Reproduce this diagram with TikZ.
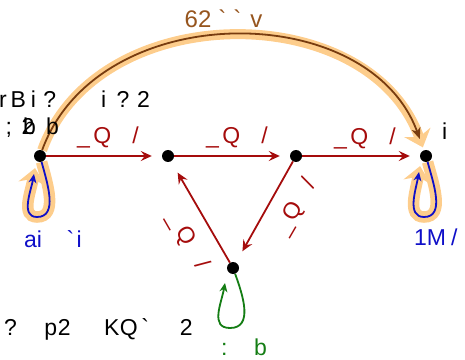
\documentclass[tikz,border=0pt]{standalone}
\usepackage{fontspec}
\setmainfont{Liberation Sans}
\usetikzlibrary{arrows.meta}
\definecolor{ered}{RGB}{165,12,12}
\definecolor{eblue}{RGB}{15,15,200}
\definecolor{egreen}{RGB}{20,125,20}
\definecolor{abrown}{RGB}{120,60,15}
\definecolor{lbrown}{RGB}{150,85,30}
\definecolor{hl}{RGB}{253,205,140}
\pgfdeclarelayer{bg}
\pgfsetlayers{bg,main}
\begin{document}
\begin{tikzpicture}[x=1pt,y=1pt,
  dot/.style={circle,fill=black,inner sep=0pt,minimum size=12pt},
  txt/.style={inner sep=0pt,anchor=base west,font=\fontsize{23}{27}\selectfont},
  redge/.style={draw=ered,line width=1.8pt,-{Stealth[length=11pt,width=10pt,inset=4pt]},shorten >=10pt},
  bloop/.style={draw=eblue,line width=1.8pt,-{Stealth[length=9pt,width=8pt,inset=3pt]}},
  gloop/.style={draw=egreen,line width=1.8pt,-{Stealth[length=9pt,width=8pt,inset=3pt]}},
  arcst/.style={draw=abrown,line width=1.8pt,-{Stealth[length=11pt,width=9pt,inset=3pt]},shorten >=12pt},
  hlight/.style={draw=hl,line width=10pt,-{Stealth[length=16pt,width=28pt,line width=0pt]}},
  elabel/.style={txt,text=ered},
]
\useasboundingbox (0,0) rectangle (465,359);
% vertices
\node[dot] (A) at (40,203) {};
\node[dot] (B) at (168,203) {};
\node[dot] (C) at (296,203) {};
\node[dot] (D) at (426,203) {};
\node[dot] (E) at (233,91) {};
% loop helper points
\coordinate (Ab) at (37,142);
\coordinate (At) at (34,185);
\coordinate (Db) at (424,142);
\coordinate (Dt) at (419,187);
\coordinate (Eb) at (230,31);
\coordinate (Et) at (225,76);
% highlights
\begin{pgfonlayer}{bg}
\draw[hlight,shorten >=3pt] (A) to[out=70,in=110,looseness=1.09] (D);
\draw[hlight,line width=11.5pt,shorten >=-6pt] (A) to[out=-75,in=0] (Ab) to[out=180,in=-100] (At);
\draw[hlight,line width=11.5pt,shorten >=-6pt] (D) to[out=-75,in=0] (Db) to[out=180,in=-100] (Dt);
\end{pgfonlayer}
% edges
\draw[redge] (A) -- (B);
\draw[redge] (B) -- (C);
\draw[redge] (C) -- (D);
\draw[redge,shorten >=13pt] (C) -- (E);
\draw[redge,shorten >=13pt] (E) -- (B);
\draw[arcst] (A) to[out=70,in=110,looseness=1.09] (D);
\draw[bloop] (A) to[out=-75,in=0] (Ab) to[out=180,in=-100] (At);
\draw[bloop] (D) to[out=-75,in=0] (Db) to[out=180,in=-100] (Dt);
\draw[gloop] (E) to[out=-70,in=0,looseness=1.1] (Eb) to[out=180,in=-100,looseness=1.15] (Et);
% edge labels
\node[elabel] (lab1) at (77,215) {\_\hspace{3.4pt}Q\hspace{21.1pt}/};
\node[elabel] (lab2) at (206,215) {\_\hspace{3.4pt}Q\hspace{21.1pt}/};
\node[elabel] (lab3) at (334,214) {\_\hspace{3.4pt}Q\hspace{21.1pt}/};
\node[elabel,rotate=60] (lab4) at (286,122) {\_\hspace{3.4pt}Q\hspace{21.1pt}/};
\node[elabel,rotate=-60] (lab5) at (167,141.5) {\_\hspace{3.4pt}Q\hspace{21.1pt}/};
% texts
\node[txt] (t1) at (-1,251) {r\hspace{3.8pt}B\hspace{5pt}i\hspace{7.3pt}?\hspace{45pt}i\hspace{10.3pt}?\hspace{7.7pt}2};
\node[txt] (t2) at (5.5,224) {;\hspace{9.45pt}2\hspace{11.9pt}b};
\node[txt] (alab) at (23,224) {b};
\node[txt] (dlab) at (442,219) {i};
\node[txt,text=lbrown,font=\fontsize{24}{28}\selectfont] (top) at (184.5,331) {62\hspace{7pt}\textasciigrave\hspace{7pt}\textasciigrave\hspace{9pt}v};
\node[txt,text=eblue] (aloop) at (24,112) {ai\hspace{24.6pt}\textasciigrave\hspace{2.2pt}i};
\node[txt,text=eblue] (dloop) at (414,114) {1M\hspace{5pt}/};
\node[txt,text=egreen] (eloop) at (221,4) {:\hspace{26.6pt}b};
\node[txt] (bottom) at (4,24) {?\hspace{27.4pt}p\hspace{0.7pt}2\hspace{33.4pt}K\hspace{0.5pt}Q\hspace{3.7pt}\textasciigrave\hspace{30.7pt}2};
\end{tikzpicture}
\end{document}
